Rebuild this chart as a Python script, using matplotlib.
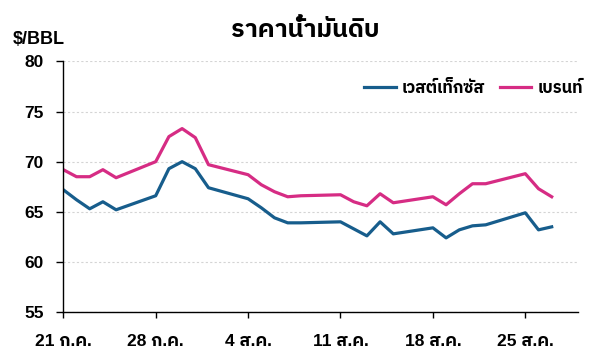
import matplotlib
matplotlib.use('Agg')
import matplotlib.pyplot as plt
import pandas as pd

plt.rcParams['font.family'] = ['Liberation Sans', 'IBM Plex Sans Thai']
plt.rcParams['font.weight'] = 'bold'

# วันที่ทำการ (ค.ศ. 2025) และราคา $/BBL ที่อ่านจากกราฟ
dates = ['2025-07-21', '2025-07-22', '2025-07-23', '2025-07-24', '2025-07-25',
         '2025-07-28', '2025-07-29', '2025-07-30', '2025-07-31', '2025-08-01',
         '2025-08-04', '2025-08-05', '2025-08-06', '2025-08-07', '2025-08-08',
         '2025-08-11', '2025-08-12', '2025-08-13', '2025-08-14', '2025-08-15',
         '2025-08-18', '2025-08-19', '2025-08-20', '2025-08-21', '2025-08-22',
         '2025-08-25', '2025-08-26', '2025-08-27']
wti = [67.2, 66.2, 65.3, 66.0, 65.2,
       66.6, 69.3, 70.0, 69.3, 67.4,
       66.3, 65.4, 64.4, 63.9, 63.9,
       64.0, 63.3, 62.6, 64.0, 62.8,
       63.4, 62.4, 63.2, 63.6, 63.7,
       64.9, 63.2, 63.5]
brent = [69.2, 68.5, 68.5, 69.2, 68.4,
         70.0, 72.5, 73.3, 72.4, 69.7,
         68.7, 67.7, 67.0, 66.5, 66.6,
         66.7, 66.0, 65.6, 66.8, 65.9,
         66.5, 65.7, 66.8, 67.8, 67.8,
         68.8, 67.3, 66.5]

tick_dates = ['2025-07-21', '2025-07-28', '2025-08-04', '2025-08-11', '2025-08-18', '2025-08-25']
tick_labels = ['21 ก.ค.', '28 ก.ค.', '4 ส.ค.', '11 ส.ค.', '18 ส.ค.', '25 ส.ค.']

x = pd.to_datetime(dates)

fig = plt.figure(figsize=(6, 3.53), dpi=100)
ax = fig.add_axes([0.1055, 0.116, 0.858, 0.71])

ax.plot(x, wti, color='#175d8c', lw=2.3, label='เวสต์เท็กซัส')
ax.plot(x, brent, color='#d62c84', lw=2.3, label='เบรนท์')

ax.set_ylim(55, 80)
ax.set_yticks([55, 60, 65, 70, 75, 80])
ax.set_xlim(pd.Timestamp('2025-07-21'), pd.Timestamp('2025-08-29'))
ax.set_xticks(pd.to_datetime(tick_dates))
ax.set_xticklabels(tick_labels)

ax.grid(axis='y', color='#d4d4d4', lw=0.8, ls=(0, (2, 2)))
ax.set_axisbelow(True)
for s in ['top', 'right']:
    ax.spines[s].set_visible(False)
for s in ['left', 'bottom']:
    ax.spines[s].set_linewidth(1.0)
ax.tick_params(axis='y', length=5, width=1, pad=9, labelsize=12.5)
ax.tick_params(axis='x', length=4.5, width=1, pad=11.5, labelsize=12.5)

fig.text(0.022, 0.887, '$/BBL', fontsize=13, fontweight='bold', ha='left', va='center')
fig.text(0.508, 0.915, 'ราคาน้ำมันดิบ', fontsize=18, fontweight='bold',
         ha='center', va='center')

fig.legend(loc='center right', bbox_to_anchor=(0.985, 0.751), frameon=False,
           ncol=2, fontsize=12, handlelength=1.9, handletextpad=0.35,
           columnspacing=0.9, borderpad=0)

fig.savefig('out.png')
